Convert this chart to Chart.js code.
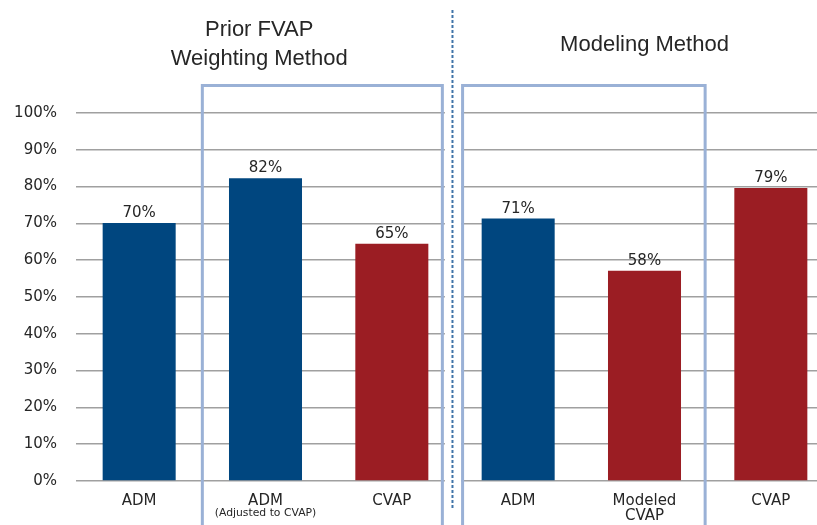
<!DOCTYPE html>
<html>
<head>
<meta charset="utf-8">
<script src="https://cdn.jsdelivr.net/npm/chart.js@4"></script>
<style>
  html, body { margin: 0; padding: 0; background: #fff; overflow: hidden; }
  #wrap { position: relative; width: 850px; height: 525px; }
</style>
</head>
<body>
<div id="wrap"><canvas id="c"></canvas></div>
<script>
// ---- data ----
const categories = [['ADM'], ['ADM'], ['CVAP'], ['ADM'], ['Modeled', 'CVAP'], ['CVAP']];
const subLabels = ['', '(Adjusted to CVAP)', '', '', '', ''];
const values = [70.1, 82.3, 64.5, 71.3, 57.1, 79.6];
const valueLabels = ['70%', '82%', '65%', '71%', '58%', '79%'];
const barColors = ['#00467F', '#00467F', '#9B1D23', '#00467F', '#9B1D23', '#9B1D23'];
const yTicks = [0, 10, 20, 30, 40, 50, 60, 70, 80, 90, 100];
const groupTitles = [
  { lines: ['Prior FVAP', 'Weighting Method'], at: 0.95 },
  { lines: ['Modeling Method'], at: 4.0 }
];

const TEXT = '#262626';
const BOX = '#9AB1D6';

const overlay = {
  id: 'overlay',
  beforeDatasetsDraw(chart) {
    const { ctx, chartArea: a, scales: { x } } = chart;
    ctx.save();
    ctx.fillStyle = '#fff';
    const g0 = x.getPixelForValue(2.42), g1 = x.getPixelForValue(2.55);
    ctx.fillRect(g0, a.top - 2, g1 - g0, a.bottom - a.top + 4);
    ctx.restore();
  },
  afterDraw(chart) {
    const { ctx, chartArea: a, scales: { x, y } } = chart;
    ctx.save();
    // boxes
    ctx.strokeStyle = BOX;
    ctx.lineWidth = 3;
    const boxTop = y.getPixelForValue(107.5);
    [[0.5, 2.4], [2.56, 4.48]].forEach(([l, r]) => {
      const xl = x.getPixelForValue(l), xr = x.getPixelForValue(r);
      ctx.beginPath();
      ctx.moveTo(xl, 600);
      ctx.lineTo(xl, boxTop);
      ctx.lineTo(xr, boxTop);
      ctx.lineTo(xr, 600);
      ctx.stroke();
    });
    // dotted divider
    const dx = x.getPixelForValue(2.48);
    ctx.strokeStyle = '#3F74A8';
    ctx.lineWidth = 2;
    ctx.setLineDash([3, 2]);
    ctx.beginPath();
    ctx.moveTo(dx, y.getPixelForValue(128));
    ctx.lineTo(dx, y.getPixelForValue(-7.4));
    ctx.stroke();
    ctx.setLineDash([]);
    // titles
    ctx.fillStyle = TEXT;
    ctx.font = '22px "Liberation Sans", Arial, sans-serif';
    ctx.textAlign = 'center';
    ctx.textBaseline = 'alphabetic';
    const t1 = groupTitles[0];
    ctx.fillText(t1.lines[0], x.getPixelForValue(t1.at), y.getPixelForValue(120.8));
    ctx.fillText(t1.lines[1], x.getPixelForValue(t1.at), y.getPixelForValue(113.05));
    const t2 = groupTitles[1];
    ctx.fillText(t2.lines[0], x.getPixelForValue(t2.at), y.getPixelForValue(116.75));
    // value labels
    const meta = chart.getDatasetMeta(0);
    ctx.font = '15px "DejaVu Sans", sans-serif';
    meta.data.forEach((bar, i) => {
      ctx.fillText(valueLabels[i], bar.x, bar.y - 6);
    });
    // sub labels
    ctx.font = '10.8px "DejaVu Sans", sans-serif';
    ctx.textBaseline = 'middle';
    subLabels.forEach((s, i) => {
      if (s) ctx.fillText(s, x.getPixelForValue(i), a.bottom + 32);
    });
    ctx.restore();
  }
};

new Chart(document.getElementById('c'), {
  type: 'bar',
  data: {
    labels: categories,
    datasets: [{
      data: values,
      backgroundColor: barColors,
      borderWidth: 0,
      categoryPercentage: 1,
      barPercentage: 0.578
    }]
  },
  options: {
    responsive: true,
    maintainAspectRatio: false,
    animation: false,
    devicePixelRatio: 1,
    layout: { padding: { top: 113, right: 16, bottom: 0, left: 0 } },
    plugins: { legend: { display: false }, tooltip: { enabled: false } },
    scales: {
      x: {
        grid: { display: false },
        border: { display: false },
        ticks: {
          color: TEXT,
          font: { family: '"DejaVu Sans", sans-serif', size: 15, lineHeight: 1.03 },
          padding: 4,
          maxRotation: 0,
          autoSkip: false
        },
        afterFit(s) { s.height = 44; }
      },
      y: {
        min: 0,
        max: 100,
        afterBuildTicks(s) { s.ticks = yTicks.map(v => ({ value: v })); },
        grid: { color: '#A0A0A0', lineWidth: 1.5, drawTicks: false },
        border: { display: false },
        ticks: {
          color: TEXT,
          font: { family: '"DejaVu Sans", sans-serif', size: 15 },
          padding: 19,
          callback: v => v + '%'
        },
        afterFit(s) { s.width = 76; }
      }
    }
  },
  plugins: [overlay]
});
</script>
</body>
</html>
